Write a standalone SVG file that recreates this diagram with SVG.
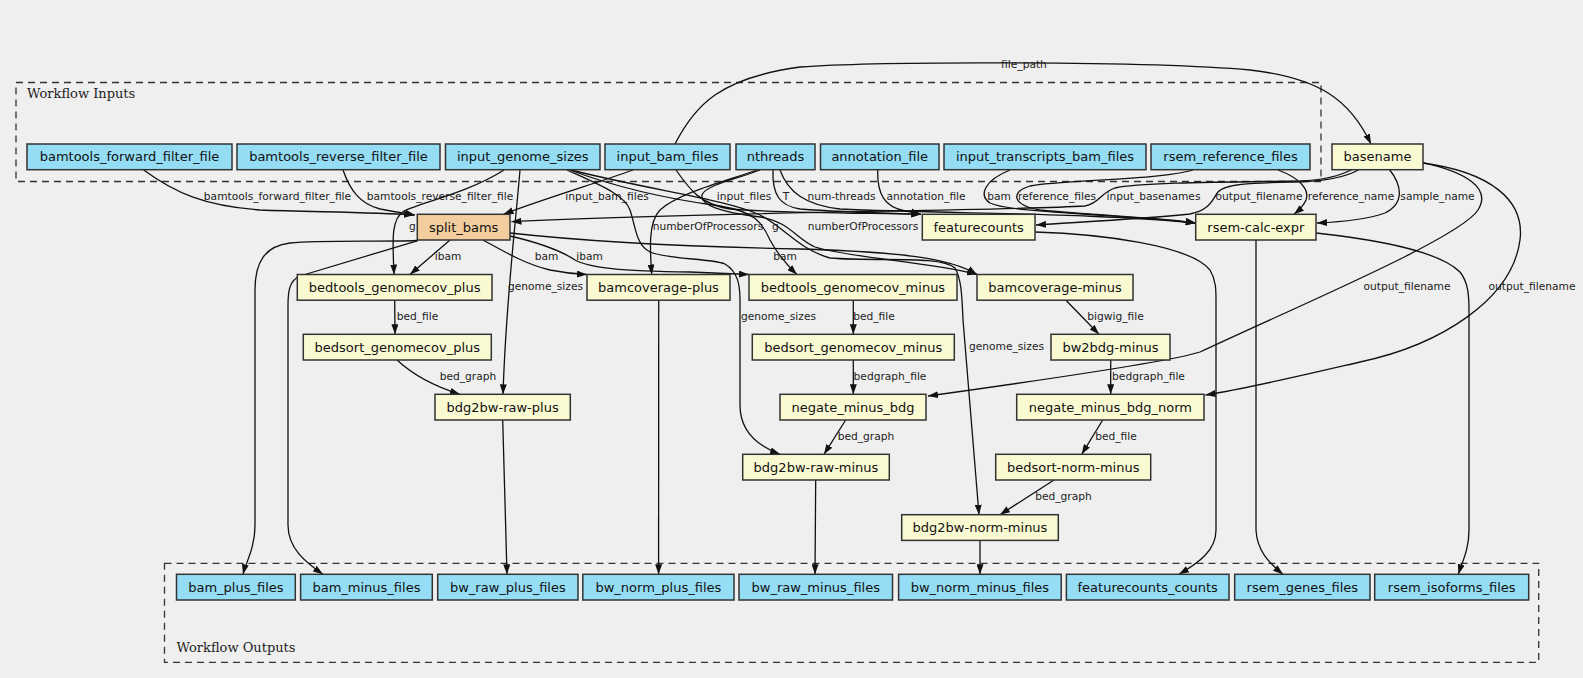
<svg xmlns="http://www.w3.org/2000/svg" width="1583" height="678" viewBox="0 0 1583 678">
<defs>
<style>
.bg{fill:#efefef}
.cl{fill:none;stroke:#333;stroke-width:1.3;stroke-dasharray:7,5}
.cll{font-family:"DejaVu Serif",serif;font-size:13px;fill:#222}
.n rect{stroke:#333;stroke-width:1.5}
.in rect{fill:#94ddf4}
.st rect{fill:#fafad2}
.sp rect{fill:#f4cd9e}
.n text{font-family:"DejaVu Sans",sans-serif;font-size:13px;fill:#111;text-anchor:middle}
.e path{fill:none;stroke:#111;stroke-width:1.3;marker-end:url(#ah)}
.e text{font-family:"DejaVu Sans",sans-serif;font-size:10.67px;fill:#222;text-anchor:middle}
</style>
<marker id="ah" markerUnits="userSpaceOnUse" markerWidth="10" markerHeight="7" refX="10" refY="3.5" orient="auto"><path d="M0,0 L10,3.5 L0,7 z" fill="#111"/></marker>
</defs>
<rect class="bg" x="0" y="0" width="1583" height="678"/>
<g id="cluster_inputs">
<rect class="cl" x="16" y="82.5" width="1305" height="99"/>
<text class="cll" x="27" y="97.5">Workflow Inputs</text>
</g>
<g id="cluster_outputs">
<rect class="cl" x="164.5" y="563.3" width="1374.2" height="99"/>
<text class="cll" x="176.5" y="652">Workflow Outputs</text>
</g>
<g id="edges" class="e">
<g><path d="M143.7,170 C175,193 205,206 260,210 C310,212 370,212 414,215"/><text x="277.5" y="199.8">bamtools_forward_filter_file</text></g>
<g><path d="M343,170 C350,190 360,204 380,209 C395,212 405,213 415,215"/><text x="440" y="199.8">bamtools_reverse_filter_file</text></g>
<g><path d="M504,170 C470,192 420,203 404,211 C390,219 393,245 394,274.5"/><text x="412.5" y="229.8">g</text></g>
<g><path d="M633,170 C600,182 540,200 503.5,214.3"/><text x="607" y="199.8">input_bam_files</text></g>
<g><path d="M675,144 C695,105 720,78 800,67 C880,61 1150,61 1250,70 C1320,78 1350,100 1371,144"/><text x="1024" y="67.8">file_path</text></g>
<g><path d="M676,170 C690,190 700,204 730,209 C780,213 860,213 921,214.3"/><text x="744" y="199.8">input_files</text></g>
<g><path d="M773,170 C772,195 780,206 800,209 C840,212 880,213 921,214.3"/><text x="786" y="199.8">T</text></g>
<g><path d="M780,170 C788,192 805,205 840,209 C950,214 1100,213 1195.7,223"/><text x="841.5" y="199.8">num-threads</text></g>
<g><path d="M877.7,170 C877,195 885,207 905,211 C912,212 916,213 921,214.3"/><text x="926" y="199.8">annotation_file</text></g>
<g><path d="M1010,170 C985,180 978,195 990,203 C1010,213 1120,214 1195.7,223"/><text x="999" y="199.8">bam</text></g>
<g><path d="M1193,170 C1160,180 1060,180 1030,186 C1010,192 1012,205 1040,210 C1100,216 1160,217 1195.7,223"/><text x="1057" y="199.8">reference_files</text></g>
<g><path d="M1353,169 C1340,176 1325,180 1300,181 C1240,182 1140,182 1115,188 C1100,193 1100,203 1085,206 C1000,211 700,212 511.5,221.7"/><text x="1153.5" y="199.8">input_basenames</text></g>
<g><path d="M1360,169 C1345,178 1320,182 1290,182 C1250,183 1225,184 1218,192 C1212,200 1210,210 1190,214 C1140,219 1080,222 1036,225"/><text x="1259" y="199.8">output_filename</text></g>
<g><path d="M1278,170 C1300,178 1310,190 1306,200 C1303,207 1298,211 1294,214.3"/><text x="1351" y="199.8">reference_name</text></g>
<g><path d="M1389,169 C1402,185 1405,203 1385,213 C1365,220 1340,222 1317,223"/><text x="1437.5" y="199.8">sample_name</text></g>
<g><path d="M1423,162.7 C1465,172 1492,188 1478,210 C1460,238 1300,305 1200,352 C1170,362 1000,386 928,396"/><text x="1407" y="289.8">output_filename</text></g>
<g><path d="M1423,163 C1490,172 1525,200 1520,240 C1512,300 1440,345 1360,362 C1300,376 1250,388 1205.5,395"/><text x="1532" y="289.8">output_filename</text></g>
<g><path d="M1035,232 C1100,234 1190,245 1210,270 C1216,280 1216,290 1216,300 L1216,530 C1216,550 1200,562 1179,574.3"/></g>
<g><path d="M1256,240 L1256,530 C1257,550 1268,562 1283,574.3"/></g>
<g><path d="M1316,233 C1380,240 1440,252 1460,272 C1468,282 1469,295 1469,310 L1469,530 C1469,550 1462,562 1458.4,574.3"/></g>
<g><path d="M417,240.5 C380,242 320,240 290,243 C265,246 255,262 255,290 L255,525 C255,548 246,562 243,574.3"/></g>
<g><path d="M418,240.7 C380,252 320,270 300,276 C290,280 288,290 288,305 L288,525 C288,548 305,562 323,574.3"/></g>
<g><path d="M450,240 L410,274.5"/><text x="448" y="259.8">ibam</text></g>
<g><path d="M483,240 C505,252 525,264 550,270 C565,273 575,274 587,274.5"/><text x="546.5" y="259.8">bam</text></g>
<g><path d="M510,236 C540,243 560,250 575,260 C590,268 620,271 690,272 C715,273 735,274 749,274.5"/><text x="589.5" y="259.8">ibam</text></g>
<g><path d="M510,233 C600,243 700,247 800,249 C900,252 950,258 977,274.5"/><text x="785" y="259.8">bam</text></g>
<g><path d="M757,170 C730,180 680,192 660,210 C648,222 650,250 651.7,274.5"/><text x="708" y="229.8">numberOfProcessors</text></g>
<g><path d="M760,170 C740,178 705,185 702,195 C700,205 720,212 760,217 C790,222 795,238 815,247 C850,258 930,262 977,274.5"/><text x="863" y="229.8">numberOfProcessors</text></g>
<g><path d="M570,170 C610,185 660,198 720,206 C755,212 762,222 770,240 C778,255 788,266 797,274.5"/><text x="775.5" y="229.8">g</text></g>
<g><path d="M520,170 C515,230 506,300 503,394.3"/><text x="545.5" y="289.8">genome_sizes</text></g>
<g><path d="M567,170 C600,185 625,195 630,210 C636,228 636,245 650,252 C670,260 710,258 725,264 C738,272 740,285 740,300 L740,405 C740,430 755,445 780,454.3"/><text x="778.5" y="319.8">genome_sizes</text></g>
<g><path d="M571,170 C650,190 730,200 760,215 C785,228 800,250 830,258 C880,262 940,255 955,268 C962,280 962,300 963,320 L979,514.7"/><text x="1006.5" y="349.8">genome_sizes</text></g>
<g><path d="M394.7,300 L395,334.3"/><text x="417.5" y="319.8">bed_file</text></g>
<g><path d="M397,360 C410,372 430,385 460,394.3"/><text x="468" y="379.8">bed_graph</text></g>
<g><path d="M502.7,420 L507,574.3"/></g>
<g><path d="M658.7,300 L658.6,574.3"/></g>
<g><path d="M853.3,300 L853.3,334.3"/><text x="874" y="319.8">bed_file</text></g>
<g><path d="M853.3,360 L853.3,394.3"/><text x="890" y="379.8">bedgraph_file</text></g>
<g><path d="M845.7,420 L824,454.3"/><text x="866" y="439.8">bed_graph</text></g>
<g><path d="M815.7,480 L815,574.3"/></g>
<g><path d="M1065.7,300 L1099,334.3"/><text x="1115.5" y="319.8">bigwig_file</text></g>
<g><path d="M1110.7,360 L1110.7,394.3"/><text x="1148.5" y="379.8">bedgraph_file</text></g>
<g><path d="M1102.7,420 L1081.7,454.3"/><text x="1116" y="439.8">bed_file</text></g>
<g><path d="M1054,480 L1000,514.7"/><text x="1063.5" y="499.8">bed_graph</text></g>
<g><path d="M980,540 L980,574.3"/></g>
</g>
<g id="bamtools_forward_filter_file" class="n in"><rect x="27" y="144" width="205" height="25.7"/><text x="129.5" y="161.4">bamtools_forward_filter_file</text></g>
<g id="bamtools_reverse_filter_file" class="n in"><rect x="237" y="144" width="203" height="25.7"/><text x="338.5" y="161.4">bamtools_reverse_filter_file</text></g>
<g id="input_genome_sizes" class="n in"><rect x="445.5" y="144" width="154.5" height="25.7"/><text x="522.75" y="161.4">input_genome_sizes</text></g>
<g id="input_bam_files" class="n in"><rect x="605" y="144" width="125" height="25.7"/><text x="667.5" y="161.4">input_bam_files</text></g>
<g id="nthreads" class="n in"><rect x="736" y="144" width="79" height="25.7"/><text x="775.5" y="161.4">nthreads</text></g>
<g id="annotation_file" class="n in"><rect x="820.5" y="144" width="118.5" height="25.7"/><text x="879.75" y="161.4">annotation_file</text></g>
<g id="input_transcripts_bam_files" class="n in"><rect x="944" y="144" width="202" height="25.7"/><text x="1045" y="161.4">input_transcripts_bam_files</text></g>
<g id="rsem_reference_files" class="n in"><rect x="1151" y="144" width="159" height="25.7"/><text x="1230.5" y="161.4">rsem_reference_files</text></g>
<g id="basename" class="n st"><rect x="1332" y="144" width="91" height="25.7"/><text x="1377.5" y="161.4">basename</text></g>
<g id="split_bams" class="n sp"><rect x="417.3" y="214.3" width="92.7" height="25.7"/><text x="463.65" y="231.7">split_bams</text></g>
<g id="featurecounts" class="n st"><rect x="922.3" y="214.3" width="112.7" height="25.7"/><text x="978.65" y="231.7">featurecounts</text></g>
<g id="rsem-calc-expr" class="n st"><rect x="1195.7" y="214.3" width="120.3" height="25.7"/><text x="1255.85" y="231.7">rsem-calc-expr</text></g>
<g id="bedtools_genomecov_plus" class="n st"><rect x="297.3" y="274.5" width="194.7" height="25.7"/><text x="394.65" y="291.9">bedtools_genomecov_plus</text></g>
<g id="bamcoverage-plus" class="n st"><rect x="587" y="274.5" width="143" height="25.7"/><text x="658.5" y="291.9">bamcoverage-plus</text></g>
<g id="bedtools_genomecov_minus" class="n st"><rect x="749" y="274.5" width="208" height="25.7"/><text x="853" y="291.9">bedtools_genomecov_minus</text></g>
<g id="bamcoverage-minus" class="n st"><rect x="977" y="274.5" width="156" height="25.7"/><text x="1055" y="291.9">bamcoverage-minus</text></g>
<g id="bedsort_genomecov_plus" class="n st"><rect x="303.3" y="334.3" width="188" height="25.7"/><text x="397.3" y="351.7">bedsort_genomecov_plus</text></g>
<g id="bedsort_genomecov_minus" class="n st"><rect x="752.3" y="334.3" width="202" height="25.7"/><text x="853.3" y="351.7">bedsort_genomecov_minus</text></g>
<g id="bw2bdg-minus" class="n st"><rect x="1051" y="334.3" width="119" height="25.7"/><text x="1110.5" y="351.7">bw2bdg-minus</text></g>
<g id="bdg2bw-raw-plus" class="n st"><rect x="435" y="394.3" width="135.3" height="25.7"/><text x="502.65" y="411.7">bdg2bw-raw-plus</text></g>
<g id="negate_minus_bdg" class="n st"><rect x="780" y="394.3" width="146" height="25.7"/><text x="853" y="411.7">negate_minus_bdg</text></g>
<g id="negate_minus_bdg_norm" class="n st"><rect x="1016.7" y="394.3" width="187.3" height="25.7"/><text x="1110.35" y="411.7">negate_minus_bdg_norm</text></g>
<g id="bdg2bw-raw-minus" class="n st"><rect x="742.7" y="454.3" width="146.6" height="25.7"/><text x="816" y="471.7">bdg2bw-raw-minus</text></g>
<g id="bedsort-norm-minus" class="n st"><rect x="995.7" y="454.3" width="155" height="25.7"/><text x="1073.2" y="471.7">bedsort-norm-minus</text></g>
<g id="bdg2bw-norm-minus" class="n st"><rect x="901.7" y="514.7" width="156.6" height="25.7"/><text x="980" y="532.1">bdg2bw-norm-minus</text></g>
<g id="bam_plus_files" class="n in"><rect x="176.5" y="574.3" width="118.8" height="25.7"/><text x="235.9" y="591.7">bam_plus_files</text></g>
<g id="bam_minus_files" class="n in"><rect x="300.6" y="574.3" width="131.7" height="25.7"/><text x="366.45" y="591.7">bam_minus_files</text></g>
<g id="bw_raw_plus_files" class="n in"><rect x="437.7" y="574.3" width="140.3" height="25.7"/><text x="507.85" y="591.7">bw_raw_plus_files</text></g>
<g id="bw_norm_plus_files" class="n in"><rect x="582.8" y="574.3" width="151.2" height="25.7"/><text x="658.4" y="591.7">bw_norm_plus_files</text></g>
<g id="bw_raw_minus_files" class="n in"><rect x="739" y="574.3" width="153.5" height="25.7"/><text x="815.75" y="591.7">bw_raw_minus_files</text></g>
<g id="bw_norm_minus_files" class="n in"><rect x="898.6" y="574.3" width="162.6" height="25.7"/><text x="979.9" y="591.7">bw_norm_minus_files</text></g>
<g id="featurecounts_counts" class="n in"><rect x="1066.4" y="574.3" width="162.6" height="25.7"/><text x="1147.7" y="591.7">featurecounts_counts</text></g>
<g id="rsem_genes_files" class="n in"><rect x="1234.7" y="574.3" width="135.3" height="25.7"/><text x="1302.35" y="591.7">rsem_genes_files</text></g>
<g id="rsem_isoforms_files" class="n in"><rect x="1374.7" y="574.3" width="154" height="25.7"/><text x="1451.7" y="591.7">rsem_isoforms_files</text></g>
</svg>
